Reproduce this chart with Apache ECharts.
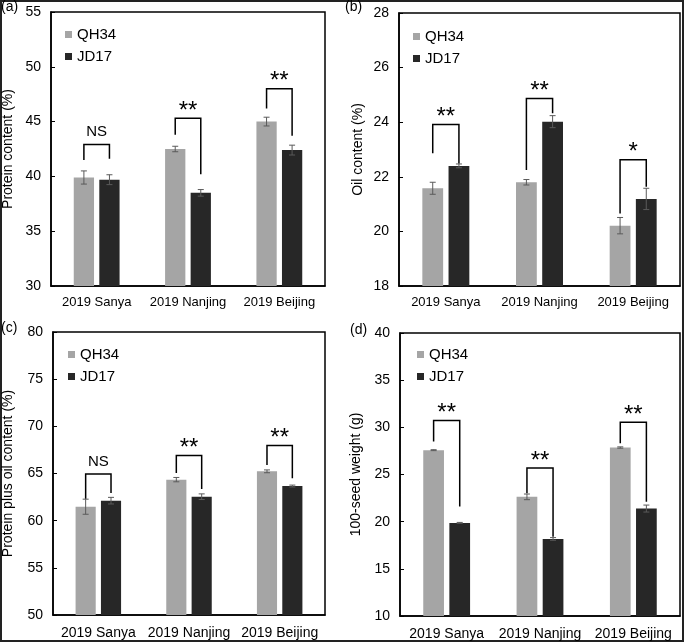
<!DOCTYPE html>
<html>
<head>
<meta charset="utf-8">
<script src="https://cdn.jsdelivr.net/npm/echarts@6/dist/echarts.min.js"></script>
<style>html,body{margin:0;padding:0;background:#fff;}#c{width:685px;height:643px;}</style>
</head>
<body>
<div id="c"></div>
<script>
// ---------- data ----------
const categories = ['2019 Sanya', '2019 Nanjing', '2019 Beijing'];
const seriesNames = ['QH34', 'JD17'];

const proteinQH34 = [39.9, 42.5, 45.0];
const proteinQH34Err = [0.6, 0.25, 0.4];
const proteinJD17 = [39.7, 38.5, 42.4];
const proteinJD17Err = [0.45, 0.3, 0.45];

const oilQH34 = [21.58, 21.8, 20.21];
const oilQH34Err = [0.22, 0.1, 0.3];
const oilJD17 = [22.4, 24.02, 21.19];
const oilJD17Err = [0.07, 0.22, 0.39];

const totalQH34 = [61.48, 64.35, 65.23];
const totalQH34Err = [0.8, 0.23, 0.15];
const totalJD17 = [62.12, 62.54, 63.67];
const totalJD17Err = [0.35, 0.3, 0.1];

const seedQH34 = [27.58, 22.63, 27.86];
const seedQH34Err = [0.05, 0.3, 0.07];
const seedJD17 = [19.87, 18.17, 21.39];
const seedJD17Err = [0.05, 0.14, 0.37];

// significance brackets: label, bracket top, left leg end, right leg end (data units)
const proteinSig = ['NS', '**', '**'];
const proteinSigTop = [42.9, 45.3, 48.0];
const proteinSigLeft = [41.5, 43.8, 46.2];
const proteinSigRight = [41.6, 40.2, 43.7];

const oilSig = ['**', '**', '*'];
const oilSigTop = [23.92, 24.87, 22.62];
const oilSigLeft = [22.86, 22.25, 20.66];
const oilSigRight = [22.49, 24.33, 21.64];

const totalSig = ['NS', '**', '**'];
const totalSigTop = [64.95, 66.9, 67.98];
const totalSigLeft = [62.33, 65.05, 65.9];
const totalSigRight = [62.93, 63.36, 64.5];

const seedSig = ['**', '**', '**'];
const seedSigTop = [30.73, 25.7, 30.55];
const seedSigLeft = [28.5, 23.0, 28.3];
const seedSigRight = [21.6, 18.4, 22.1];

const yTitles = ['Protein content (%)', 'Oil content (%)', 'Protein plus oil content (%)', '100-seed weight (g)'];
const yMin = [30, 18, 50, 10];
const yMax = [55, 28, 80, 40];
const yInterval = [5, 2, 5, 5];
const panelLabels = ['(a)', '(b)', '(c)', '(d)'];

// ---------- layout / style ----------
const FONT = 'Liberation Sans, Arial, sans-serif';
const C_QH = '#a5a5a5';
const C_JD = '#272727';
const grids = [
  { left: 49, top: 12, width: 276, height: 274 },
  { left: 399, top: 13, width: 281, height: 273 },
  { left: 49, top: 332, width: 276, height: 283 },
  { left: 400, top: 333, width: 280, height: 283 }
];
const nameGaps = [36, 34, 38, 37];
const xLabelSize = [13, 13, 14, 14];
const xLabelMargin = [10, 10, 11, 11];
const legendPos = [
  { left: 65, top: 27 },
  { left: 413, top: 29 },
  { left: 68, top: 347 },
  { left: 417, top: 347 }
];
const panelLabelPos = [[1, 8], [345, 8], [1, 329], [350, 331]];
const BAR_W = 0.222, BAR_GAP = 0.26;
const OFF = BAR_W * (1 + BAR_GAP) / 2;

const panels = [
  { q: proteinQH34, qe: proteinQH34Err, j: proteinJD17, je: proteinJD17Err, s: proteinSig, st: proteinSigTop, sl: proteinSigLeft, sr: proteinSigRight },
  { q: oilQH34, qe: oilQH34Err, j: oilJD17, je: oilJD17Err, s: oilSig, st: oilSigTop, sl: oilSigLeft, sr: oilSigRight },
  { q: totalQH34, qe: totalQH34Err, j: totalJD17, je: totalJD17Err, s: totalSig, st: totalSigTop, sl: totalSigLeft, sr: totalSigRight },
  { q: seedQH34, qe: seedQH34Err, j: seedJD17, je: seedJD17Err, s: seedSig, st: seedSigTop, sl: seedSigLeft, sr: seedSigRight }
];

function errRender(sign) {
  return function (params, api) {
    const idx = api.value(0), v = api.value(1), e = api.value(2);
    const band = api.size([1, 0])[0];
    const p = api.coord([idx, v]);
    const x = p[0] + sign * band * OFF;
    const y1 = api.coord([idx, v + e])[1];
    const y2 = api.coord([idx, v - e])[1];
    const cap = 3;
    const st = { stroke: '#5a5a5a', lineWidth: 1 };
    return {
      type: 'group',
      children: [
        { type: 'line', shape: { x1: x, y1: y1, x2: x, y2: y2 }, style: st },
        { type: 'line', shape: { x1: x - cap, y1: y1, x2: x + cap, y2: y1 }, style: st },
        { type: 'line', shape: { x1: x - cap, y1: y2, x2: x + cap, y2: y2 }, style: st }
      ]
    };
  };
}

function sigRender(params, api) {
  const idx = api.value(0);
  const top = api.value(1), l = api.value(2), r = api.value(3);
  const label = api.value(4);
  const band = api.size([1, 0])[0];
  const c = api.coord([idx, top]);
  const xL = c[0] - band * OFF, xR = c[0] + band * OFF;
  const yT = c[1];
  const yL = api.coord([idx, l])[1];
  const yR = api.coord([idx, r])[1];
  const isStar = label.indexOf('*') >= 0;
  return {
    type: 'group',
    children: [
      { type: 'polyline', shape: { points: [[xL, yL], [xL, yT], [xR, yT], [xR, yR]] },
        style: { stroke: '#000', lineWidth: 1.5, fill: null } },
      { type: 'text', x: c[0], y: isStar ? yT + 5 : yT - 5,
        style: { text: label, fill: '#000', font: (isStar ? '24px ' : '15px ') + FONT,
                 align: 'center', verticalAlign: 'bottom' } }
    ]
  };
}

const option = {
  animation: false,
  backgroundColor: '#fff',
  textStyle: { fontFamily: FONT },
  grid: grids.map(g => Object.assign({ show: true, borderColor: '#000', borderWidth: 1.5, backgroundColor: 'transparent' }, g)),
  legend: legendPos.map(p => ({
    orient: 'vertical', left: p.left, top: p.top, data: seriesNames, padding: 0,
    icon: 'rect', itemWidth: 7, itemHeight: 7, itemGap: 7,
    textStyle: { fontSize: 15, color: '#000', fontFamily: FONT, padding: [0, 0, 0, 0] },
    selectedMode: false
  })),
  xAxis: grids.map((g, i) => ({
    type: 'category', gridIndex: i, data: categories,
    axisLine: { lineStyle: { color: '#000', width: 1.5 } },
    axisTick: { show: false },
    axisLabel: { color: '#000', fontSize: xLabelSize[i], margin: xLabelMargin[i], fontFamily: FONT, interval: 0 }
  })),
  yAxis: grids.map((g, i) => ({
    type: 'value', gridIndex: i, min: yMin[i], max: yMax[i], interval: yInterval[i],
    name: yTitles[i], nameLocation: 'middle', nameGap: nameGaps[i],
    nameTextStyle: { color: '#000', fontSize: 14, fontFamily: FONT },
    axisLine: { show: true, lineStyle: { color: '#000', width: 1.5 } },
    axisTick: { show: true, inside: true, length: 4, lineStyle: { color: '#000' } },
    axisLabel: { color: '#000', fontSize: 14, margin: 10, fontFamily: FONT },
    splitLine: { show: false }
  })),
  series: [],
  graphic: [
    { type: 'rect', shape: { x: 1, y: 1, width: 682, height: 640 }, style: { fill: null, stroke: '#222', lineWidth: 2 }, silent: true }
  ].concat(panelLabels.map((t, i) => ({
    type: 'text', left: panelLabelPos[i][0], top: panelLabelPos[i][1] - 8,
    style: { text: t, fill: '#000', font: '14px ' + FONT }
  })))
};

panels.forEach((p, i) => {
  option.series.push(
    { name: 'QH34', type: 'bar', xAxisIndex: i, yAxisIndex: i, data: p.q, barWidth: (BAR_W * 100) + '%', barGap: (BAR_GAP * 100) + '%', itemStyle: { color: C_QH }, silent: true },
    { name: 'JD17', type: 'bar', xAxisIndex: i, yAxisIndex: i, data: p.j, barWidth: (BAR_W * 100) + '%', barGap: (BAR_GAP * 100) + '%', itemStyle: { color: C_JD }, silent: true },
    { type: 'custom', xAxisIndex: i, yAxisIndex: i, z: 5, silent: true, renderItem: errRender(-1),
      data: p.q.map((v, k) => [k, v, p.qe[k]]) },
    { type: 'custom', xAxisIndex: i, yAxisIndex: i, z: 5, silent: true, renderItem: errRender(1),
      data: p.j.map((v, k) => [k, v, p.je[k]]) },
    { type: 'custom', xAxisIndex: i, yAxisIndex: i, z: 6, silent: true, renderItem: sigRender,
      dimensions: ['x', 'top', 'l', 'r', 'label'],
      encode: { x: 0, y: 1 },
      data: p.st.map((v, k) => [k, v, p.sl[k], p.sr[k], p.s[k]]) }
  );
});

const chart = echarts.init(document.getElementById('c'), null, { renderer: 'canvas' });
chart.setOption(option);
</script>
</body>
</html>
